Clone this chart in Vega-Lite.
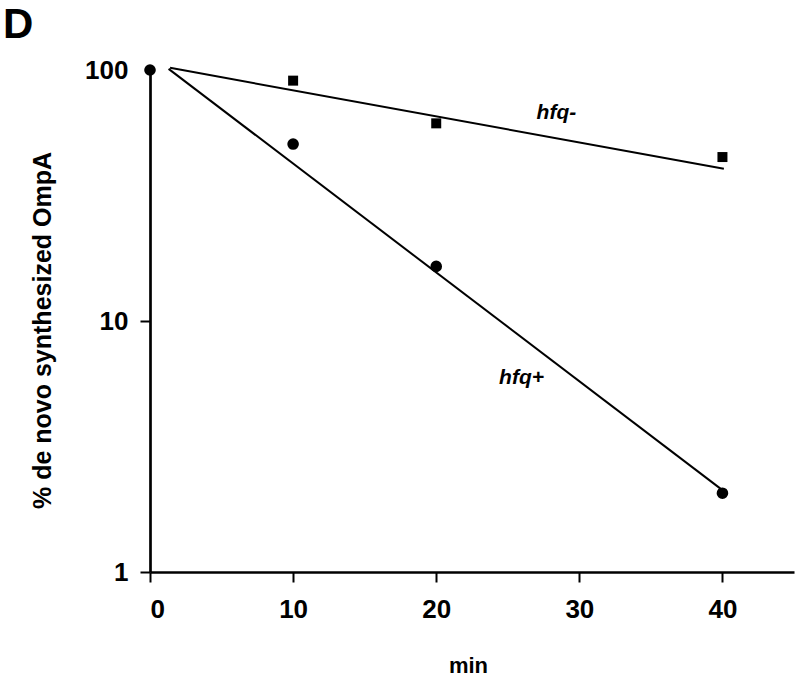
{
  "$schema": "https://vega.github.io/schema/vega-lite/v6.json",
  "autosize": {"type": "none"},
  "padding": {"left": 150, "top": 70, "right": 6, "bottom": 105},
  "width": 644,
  "height": 502,
  "background": "white",
  "title": {"text": "D", "anchor": "start", "frame": "group", "fontSize": 42, "fontWeight": "bold", "font": "Liberation Sans", "color": "black", "dx": -147, "offset": -23, "baseline": "alphabetic"},
  "config": {"view": {"stroke": null}},
  "datasets": {
    "pts": [
      {"min": 0, "pct": 100, "strain": "hfq+"},
      {"min": 10, "pct": 50.7, "strain": "hfq+"},
      {"min": 20, "pct": 16.5, "strain": "hfq+"},
      {"min": 40, "pct": 2.06, "strain": "hfq+"},
      {"min": 10, "pct": 90.7, "strain": "hfq-"},
      {"min": 20, "pct": 61.3, "strain": "hfq-"},
      {"min": 40, "pct": 45, "strain": "hfq-"}
    ],
    "fit": [
      {"min": 1.4, "pct": 102, "strain": "hfq-"},
      {"min": 40.1, "pct": 40.4, "strain": "hfq-"},
      {"min": 1.3, "pct": 101, "strain": "hfq+"},
      {"min": 40, "pct": 2.12, "strain": "hfq+"}
    ],
    "labels": [
      {"min": 28.4, "pct": 67.4, "label": "hfq-"},
      {"min": 25.96, "pct": 5.93, "label": "hfq+"}
    ]
  },
  "encoding": {
    "x": {"field": "min", "type": "quantitative",
      "scale": {"domain": [0, 45], "nice": false, "zero": false},
      "axis": {"values": [0, 10, 20, 30, 40], "title": "min", "grid": false,
        "domainColor": "black", "domainWidth": 2.7, "tickColor": "black", "tickWidth": 2, "tickSize": 10,
        "labelFont": "Liberation Sans", "labelFontSize": 26, "labelFontWeight": "bold", "labelColor": "black", "labelPadding": 14,
        "titleFont": "Liberation Sans", "titleFontSize": 22, "titleFontWeight": "bold", "titleColor": "black",
        "titleX": 318, "titleY": 93, "titleBaseline": "middle", "titleAlign": "center"}},
    "y": {"field": "pct", "type": "quantitative",
      "scale": {"type": "log", "domain": [1, 100], "nice": false},
      "axis": {"values": [1, 10, 100], "format": "d", "title": "% de novo synthesized OmpA", "grid": false,
        "domainColor": "black", "domainWidth": 2.7, "tickColor": "black", "tickWidth": 2, "tickSize": 10,
        "tickOpacity": {"condition": {"test": "datum.value == 100", "value": 0}, "value": 1},
        "labelFont": "Liberation Sans", "labelFontSize": 26, "labelFontWeight": "bold", "labelColor": "black", "labelPadding": 12,
        "titleFont": "Liberation Sans", "titleFontSize": 25, "titleFontWeight": "bold", "titleColor": "black",
        "titleX": -108, "titleY": 260, "titleBaseline": "middle", "titleAlign": "center", "titleAngle": -90}}
  },
  "layer": [
    {"data": {"name": "fit"}, "mark": {"type": "line", "color": "black", "strokeWidth": 2, "clip": false},
     "encoding": {"detail": {"field": "strain"}}},
    {"data": {"name": "pts"}, "mark": {"type": "point", "filled": true, "opacity": 1, "color": "black", "clip": false},
     "encoding": {
       "shape": {"field": "strain", "type": "nominal", "scale": {"domain": ["hfq+", "hfq-"], "range": ["circle", "square"]}, "legend": null},
       "size": {"field": "strain", "type": "nominal", "scale": {"domain": ["hfq+", "hfq-"], "range": [135, 100]}, "legend": null}
     }},
    {"data": {"name": "labels"}, "mark": {"type": "text", "font": "Liberation Sans", "fontSize": 21, "fontWeight": "bold", "fontStyle": "italic", "color": "black", "align": "center", "baseline": "middle"},
     "encoding": {"text": {"field": "label"}}}
  ]
}
